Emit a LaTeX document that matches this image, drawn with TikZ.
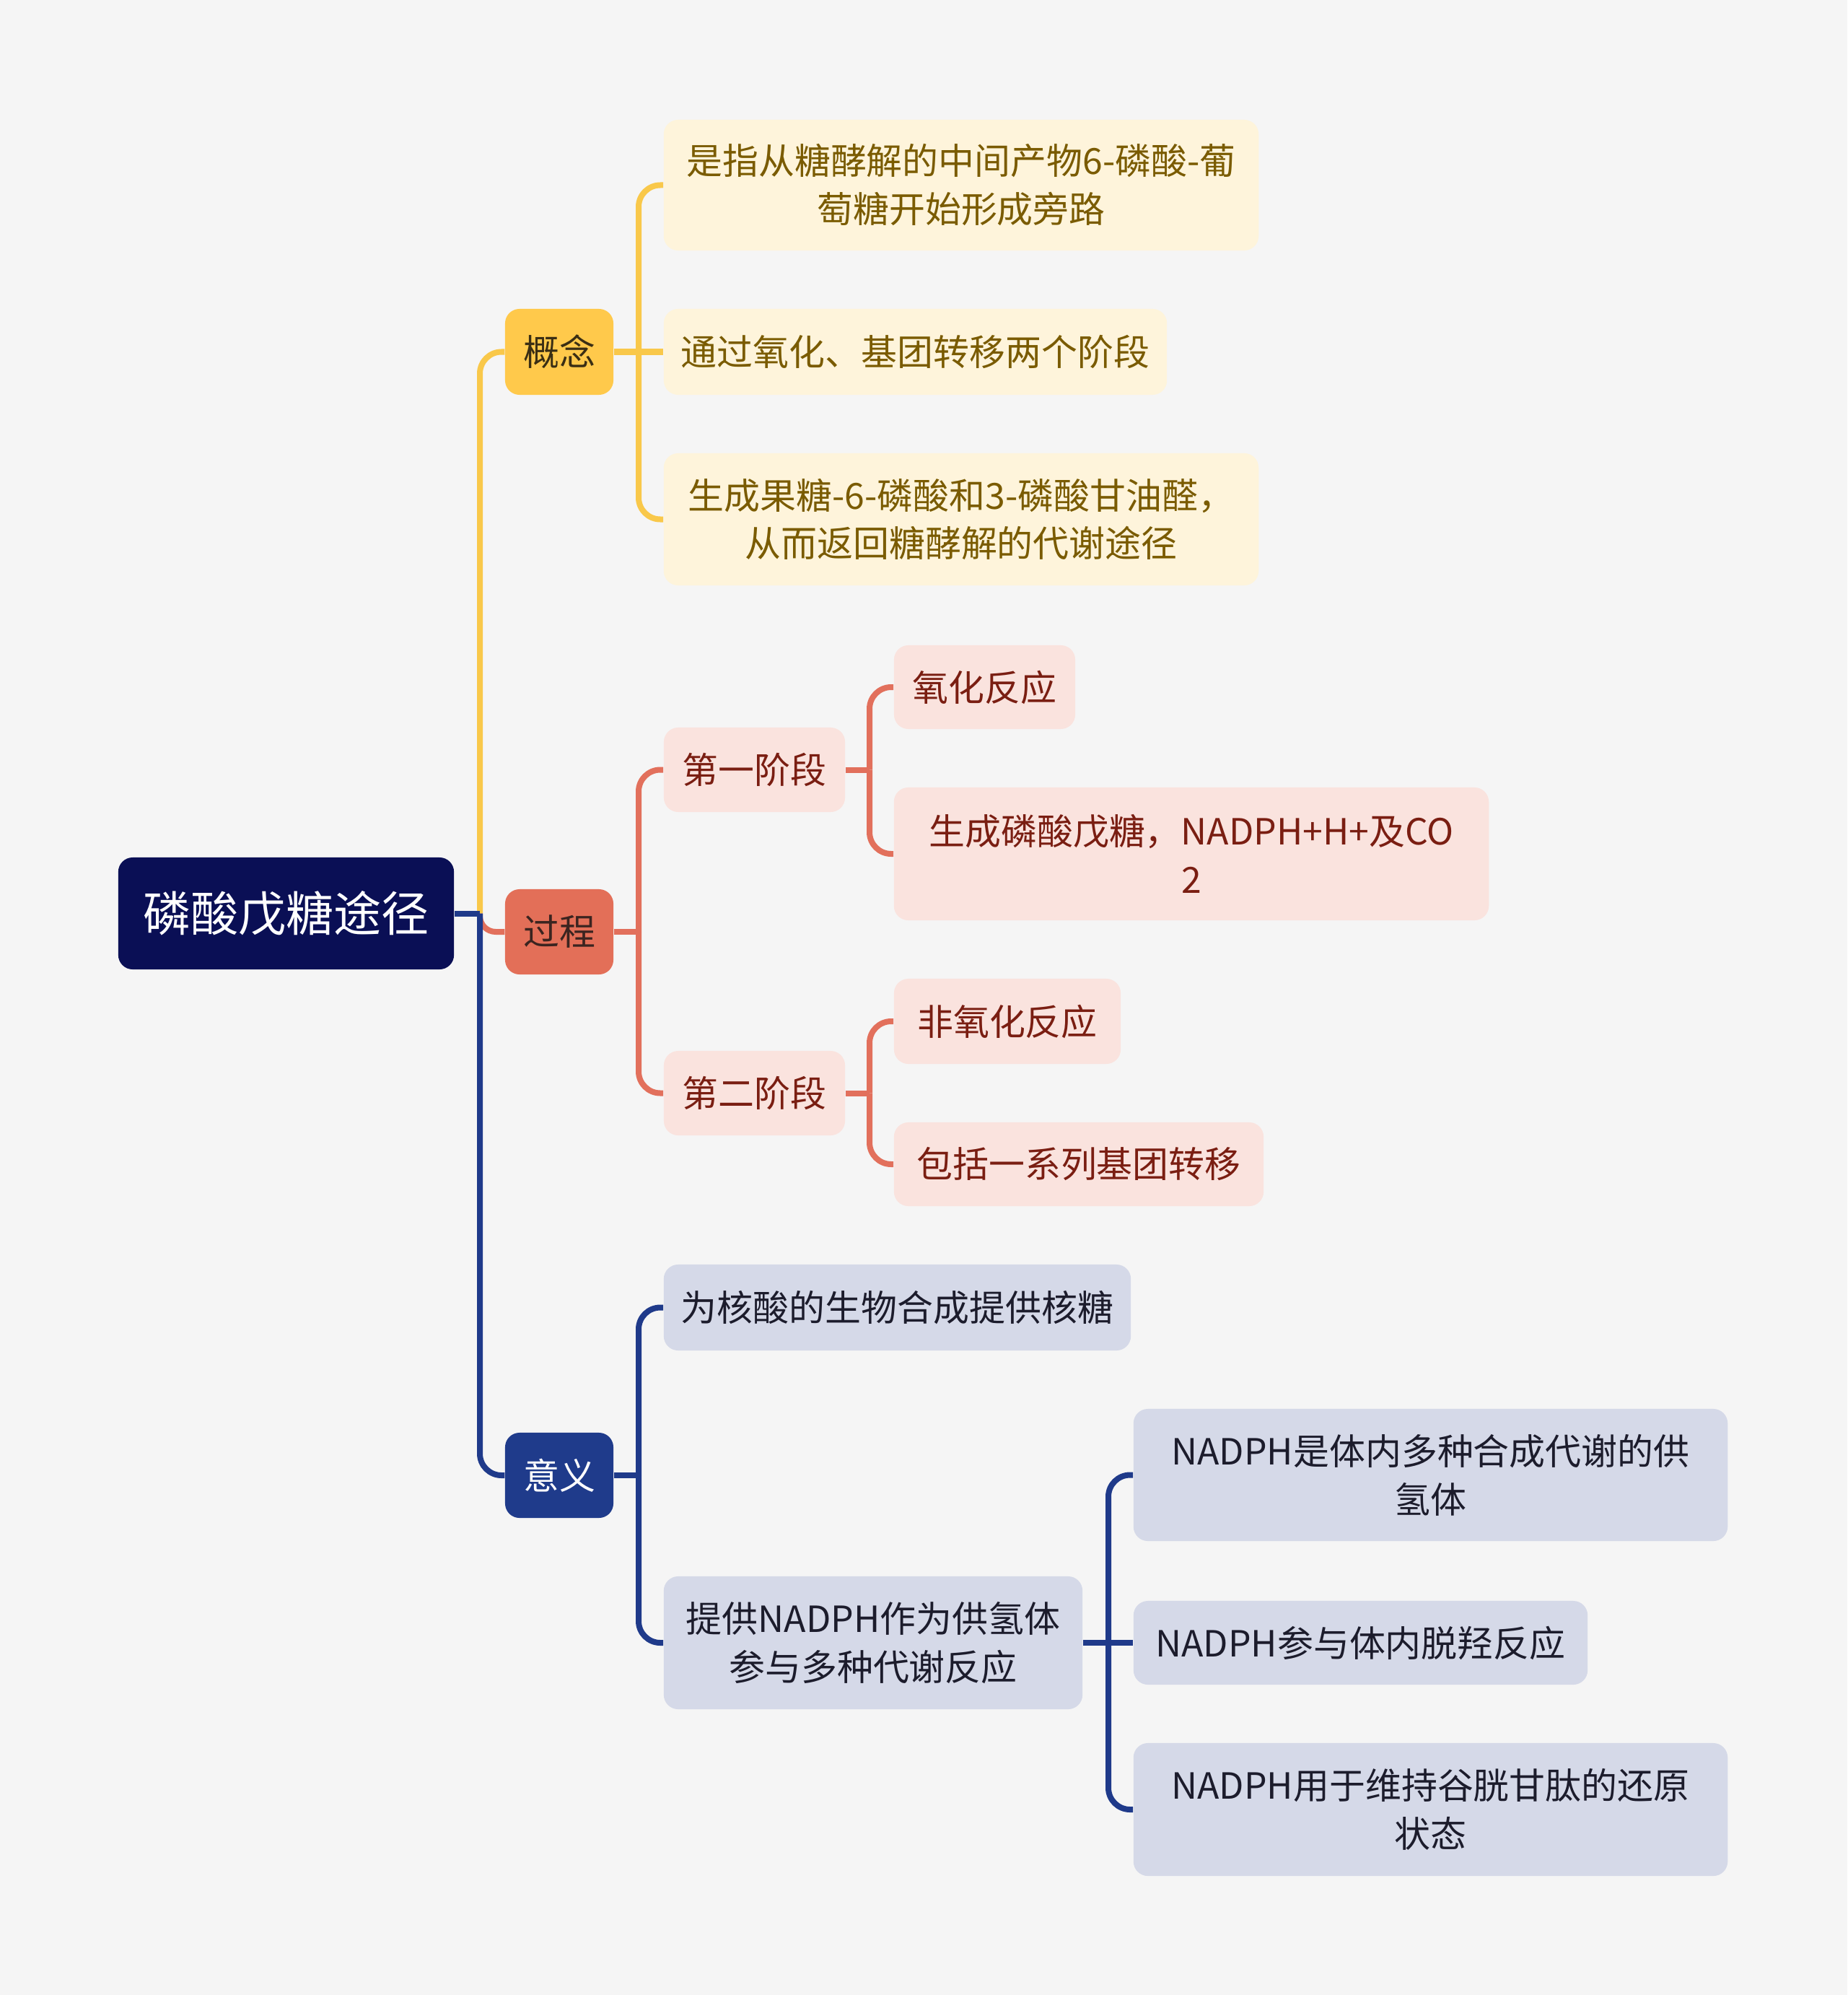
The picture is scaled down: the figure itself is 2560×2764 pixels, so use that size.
\documentclass[tikz,border=0pt]{standalone}
\usepackage{fontspec}
\setmainfont{Noto Sans CJK SC}
\definecolor{bgc}{HTML}{F5F5F5}
\definecolor{rootc}{HTML}{0A0F55}
\definecolor{yline}{HTML}{F9C84A}
\definecolor{yfill}{HTML}{FFC94B}
\definecolor{yleaf}{HTML}{FEF4DB}
\definecolor{ytext}{HTML}{7A5B00}
\definecolor{ymtext}{HTML}{3A2E14}
\definecolor{rline}{HTML}{E2705C}
\definecolor{rfill}{HTML}{E36F58}
\definecolor{rleaf}{HTML}{FAE3DE}
\definecolor{rtext}{HTML}{7A1E12}
\definecolor{rmtext}{HTML}{3B2420}
\definecolor{bline}{HTML}{1F3A8A}
\definecolor{bfill}{HTML}{1F3B8B}
\definecolor{bleaf}{HTML}{D5D9E8}
\definecolor{btext}{HTML}{1C1C2C}
\tikzset{
  base/.style={rounded corners=0.2cm, inner sep=0pt, align=center, font=\fontsize{14.2pt}{19pt}\selectfont},
  rootbox/.style={base, fill=rootc, text=white, font=\fontsize{18.8pt}{24pt}\selectfont},
  ymain/.style={base, fill=yfill, text=ymtext},
  rmain/.style={base, fill=rfill, text=rmtext},
  bmain/.style={base, fill=bfill, text=white},
  yleafbox/.style={base, fill=yleaf, text=ytext},
  rleafbox/.style={base, fill=rleaf, text=rtext},
  bleafbox/.style={base, fill=bleaf, text=btext},
  conn/.style={line width=0.08cm, line join=round},
}
\begin{document}
\begin{tikzpicture}[x=0.01cm, y=-0.01cm]
\fill[bgc] (0,0) rectangle (2560,2764);
\useasboundingbox (0,0) rectangle (2560,2764);

% nodes
\node[rootbox, minimum width=4.65cm, minimum height=1.55cm] (root) at (396.5,1265.5) {磷酸戊糖途径};

\node[ymain, minimum width=1.5cm, minimum height=1.19cm] (gn) at (775,487.5) {概念};
\node[rmain, minimum width=1.5cm, minimum height=1.18cm] (gc) at (775,1291) {过程};
\node[bmain, minimum width=1.5cm, minimum height=1.18cm] (yy) at (775,2044) {意义};

\node[yleafbox, minimum width=8.24cm, minimum height=1.81cm] (c1) at (1332,256.5) {是指从糖酵解的中间产物6-磷酸-葡\\萄糖开始形成旁路};
\node[yleafbox, minimum width=6.97cm, minimum height=1.19cm] (c2) at (1268.5,487.5) {通过氧化、基团转移两个阶段};
\node[yleafbox, minimum width=8.24cm, minimum height=1.83cm] (c3) at (1332,719.5) {生成果糖-6-磷酸和3-磷酸甘油醛，\\从而返回糖酵解的代谢途径};

\node[rleafbox, minimum width=2.51cm, minimum height=1.17cm] (p1) at (1045.5,1066.5) {第一阶段};
\node[rleafbox, minimum width=2.51cm, minimum height=1.16cm] (p11) at (1364.5,952) {氧化反应};
\node[rleafbox, minimum width=8.24cm, minimum height=1.84cm] (p12) at (1651,1183) {生成磷酸戊糖，NADPH+H+及CO\\2};
\node[rleafbox, minimum width=2.51cm, minimum height=1.17cm] (p2) at (1045.5,1514.5) {第二阶段};
\node[rleafbox, minimum width=3.14cm, minimum height=1.18cm] (p21) at (1396,1415) {非氧化反应};
\node[rleafbox, minimum width=5.12cm, minimum height=1.16cm] (p22) at (1495,1613) {包括一系列基团转移};

\node[bleafbox, minimum width=6.47cm, minimum height=1.19cm] (m1) at (1243.5,1811.5) {为核酸的生物合成提供核糖};
\node[bleafbox, minimum width=5.80cm, minimum height=1.84cm] (m2) at (1210,2276) {提供NADPH作为供氢体\\参与多种代谢反应};
\node[bleafbox, minimum width=8.23cm, minimum height=1.83cm] (m21) at (1982.5,2043.5) {NADPH是体内多种合成代谢的供\\氢体};
\node[bleafbox, minimum width=6.29cm, minimum height=1.16cm] (m22) at (1885.5,2276) {NADPH参与体内脱羟反应};
\node[bleafbox, minimum width=8.23cm, minimum height=1.84cm] (m23) at (1982.5,2507) {NADPH用于维持谷胱甘肽的还原\\状态};

% connectors: root level
\coordinate (t0) at (665,1265.5);
\draw[conn, yline, rounded corners=0.3cm] (t0) |- (gn.west);
\draw[conn, rline, rounded corners=0.22cm] (t0) |- (gc.west);
\draw[conn, bline, rounded corners=0.3cm] (t0) |- (yy.west);
\draw[conn, bline] (root.east) -- (t0);

% concept
\coordinate (t1) at (885,487.5);
\draw[conn, yline] (gn.east) -- (t1);
\draw[conn, yline, rounded corners=0.3cm] (t1) |- (c1.west);
\draw[conn, yline] (t1) -- (c2.west);
\draw[conn, yline, rounded corners=0.3cm] (t1) |- (c3.west);

% process
\coordinate (t2) at (885,1291);
\draw[conn, rline] (gc.east) -- (t2);
\draw[conn, rline, rounded corners=0.3cm] (t2) |- (p1.west);
\draw[conn, rline, rounded corners=0.3cm] (t2) |- (p2.west);

\coordinate (t3) at (1205,1066.5);
\draw[conn, rline] (p1.east) -- (t3);
\draw[conn, rline, rounded corners=0.3cm] (t3) |- (p11.west);
\draw[conn, rline, rounded corners=0.3cm] (t3) |- (p12.west);

\coordinate (t4) at (1205,1514.5);
\draw[conn, rline] (p2.east) -- (t4);
\draw[conn, rline, rounded corners=0.3cm] (t4) |- (p21.west);
\draw[conn, rline, rounded corners=0.3cm] (t4) |- (p22.west);

% meaning
\coordinate (t5) at (885,2044);
\draw[conn, bline] (yy.east) -- (t5);
\draw[conn, bline, rounded corners=0.3cm] (t5) |- (m1.west);
\draw[conn, bline, rounded corners=0.3cm] (t5) |- (m2.west);

\coordinate (t6) at (1536,2276);
\draw[conn, bline] (m2.east) -- (t6);
\draw[conn, bline, rounded corners=0.3cm] (t6) |- (m21.west);
\draw[conn, bline] (t6) -- (m22.west);
\draw[conn, bline, rounded corners=0.3cm] (t6) |- (m23.west);
\end{tikzpicture}
\end{document}
